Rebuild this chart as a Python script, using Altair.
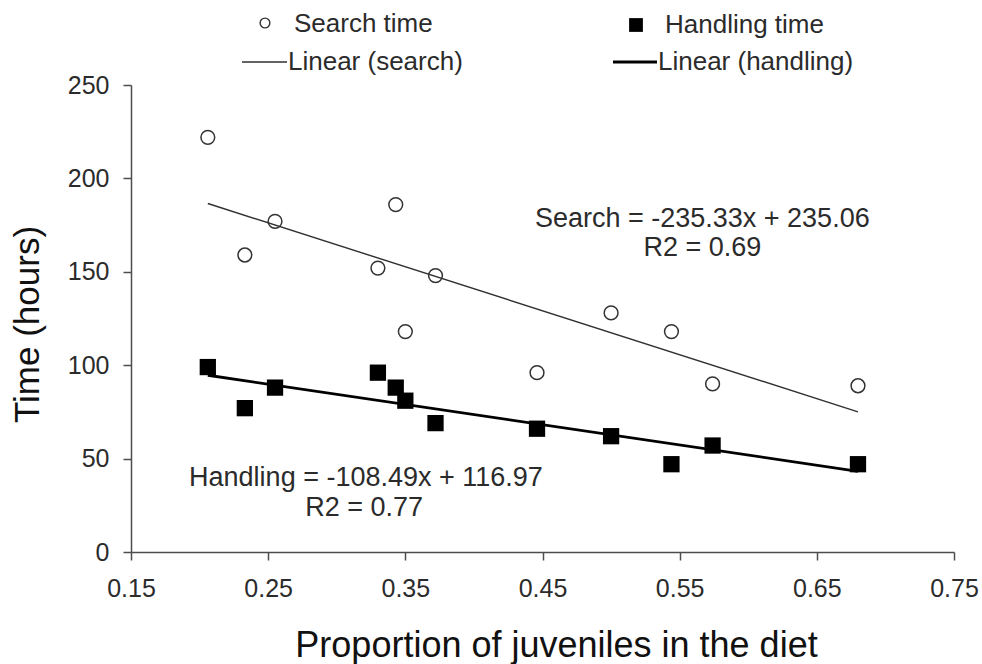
import altair as alt
import pandas as pd

# Proportion of juveniles in the diet, with search and handling times (hours)
juvenile_prop = [0.206, 0.233, 0.255, 0.330, 0.343, 0.350, 0.372, 0.446, 0.500, 0.544, 0.574, 0.680]
search_time = [222, 159, 177, 152, 186, 118, 148, 96, 128, 118, 90, 89]
handling_time = [99, 77, 88, 96, 88, 81, 69, 66, 62, 47, 57, 47]

# Linear fits (slope, intercept, R2)
search_fit = (-235.33, 235.06, 0.69)
handling_fit = (-108.49, 116.97, 0.77)

x_ticks = [0.15, 0.25, 0.35, 0.45, 0.55, 0.65, 0.75]
y_ticks = [0, 50, 100, 150, 200, 250]
legend_labels = ["Search time", "Handling time", "Linear (search)", "Linear (handling)"]

FONT = "Liberation Sans"
INK = "#2b2b2b"

points = pd.DataFrame({
    "prop": juvenile_prop * 2,
    "hours": search_time + handling_time,
    "series": ["Search"] * len(search_time) + ["Handling"] * len(handling_time),
})

x_lo, x_hi = min(juvenile_prop), max(juvenile_prop)
fits = pd.DataFrame({
    "prop": [x_lo, x_hi, x_lo, x_hi],
    "slope": [search_fit[0]] * 2 + [handling_fit[0]] * 2,
    "intercept": [search_fit[1]] * 2 + [handling_fit[1]] * 2,
    "series": ["Search", "Search", "Handling", "Handling"],
})

x_enc = alt.X(
    "prop:Q",
    scale=alt.Scale(domain=[0.15, 0.75], nice=False, zero=False),
    axis=alt.Axis(
        values=x_ticks, format=".2f", title="Proportion of juveniles in the diet",
        grid=False, tickSize=8, labelPadding=16, labelFlush=False,
        labelFontSize=25, titleFontSize=36,
        titleX=425, titleY=104, titleAlign="center", titleBaseline="alphabetic",
    ),
)
y_enc = alt.Y(
    "hours:Q",
    scale=alt.Scale(domain=[0, 250], nice=False),
    axis=alt.Axis(
        values=y_ticks, title="Time (hours)", grid=False, tickSize=8, labelPadding=14,
        labelFlush=False, labelFontSize=25, titleFontSize=35,
        titleX=-93, titleY=239, titleAngle=-90, titleAlign="center",
        titleBaseline="alphabetic",
    ),
)

search_pts = alt.Chart(points).transform_filter("datum.series == 'Search'").mark_point(
    shape="circle", filled=False, size=190, strokeWidth=1.5, color="#333333", opacity=1
).encode(x=x_enc, y=y_enc)

handling_pts = alt.Chart(points).transform_filter("datum.series == 'Handling'").mark_point(
    shape="square", filled=True, size=265, color="black", opacity=1
).encode(x="prop:Q", y="hours:Q")

fit_base = alt.Chart(fits).transform_calculate(hours="datum.slope * datum.prop + datum.intercept")

search_line = fit_base.transform_filter("datum.series == 'Search'").mark_line(
    color="#303030", strokeWidth=1.4
).encode(x="prop:Q", y="hours:Q")

handling_line = fit_base.transform_filter("datum.series == 'Handling'").mark_line(
    color="black", strokeWidth=2.8
).encode(x="prop:Q", y="hours:Q")

# Regression equations
def eq_text(name, fit):
    return f"{name} = {fit[0]:.2f}x + {fit[1]:.2f}"

ann_style = dict(font=FONT, fontSize=27, color=INK, align="center", baseline="middle")
search_eq = alt.Chart().mark_text(text=eq_text("Search", search_fit), **ann_style).encode(
    x=alt.datum(0.5665), y=alt.datum(178.5))
search_r2 = alt.Chart().mark_text(text=f"R2 = {search_fit[2]:.2f}", **ann_style).encode(
    x=alt.datum(0.5665), y=alt.datum(162.5))
handling_eq = alt.Chart().mark_text(text=eq_text("Handling", handling_fit), **ann_style).encode(
    x=alt.datum(0.3213), y=alt.datum(39.5))
handling_r2 = alt.Chart().mark_text(text=f"R2 = {handling_fit[2]:.2f}", **ann_style).encode(
    x=alt.datum(0.3200), y=alt.datum(23.5))

# Legend above the plot
leg_style = dict(font=FONT, fontSize=26, color=INK, align="left", baseline="middle")
leg_circle = alt.Chart().mark_point(shape="circle", filled=False, size=95, strokeWidth=1.4,
                                    color="#333333", opacity=1).encode(
    x=alt.value(134), y=alt.value(-62))
leg_square = alt.Chart().mark_point(shape="square", filled=True, size=190, color="black",
                                    opacity=1).encode(x=alt.value(505), y=alt.value(-60))
leg_rule1 = alt.Chart().mark_rule(color="#303030", strokeWidth=1.4).encode(
    x=alt.value(111), x2=alt.value(156), y=alt.value(-23))
leg_rule2 = alt.Chart().mark_rule(color="black", strokeWidth=2.8).encode(
    x=alt.value(482), x2=alt.value(526), y=alt.value(-23))
leg_t1 = alt.Chart().mark_text(text=legend_labels[0], **leg_style).encode(
    x=alt.value(163), y=alt.value(-61))
leg_t2 = alt.Chart().mark_text(text=legend_labels[1], **leg_style).encode(
    x=alt.value(534), y=alt.value(-60))
leg_t3 = alt.Chart().mark_text(text=legend_labels[2], **leg_style).encode(
    x=alt.value(157), y=alt.value(-23))
leg_t4 = alt.Chart().mark_text(text=legend_labels[3], **leg_style).encode(
    x=alt.value(527), y=alt.value(-23))

chart = alt.layer(
    search_line, handling_line, search_pts, handling_pts,
    search_eq, search_r2, handling_eq, handling_r2,
    leg_circle, leg_square, leg_rule1, leg_rule2, leg_t1, leg_t2, leg_t3, leg_t4,
).properties(
    width=823, height=467,
    autosize=alt.AutoSizeParams(type="none"),
    padding={"left": 131, "top": 85, "right": 28, "bottom": 112},
    background="white",
).configure_view(
    stroke=None
).configure_axis(
    domainColor="#4d4d4d", domainWidth=1.5, tickColor="#4d4d4d", tickWidth=1.5,
    labelFont=FONT, labelColor=INK,
    titleFont=FONT, titleFontWeight="normal", titleColor="#111111",
)

chart.save("out.html", embed_options={"renderer": "svg", "actions": False})
